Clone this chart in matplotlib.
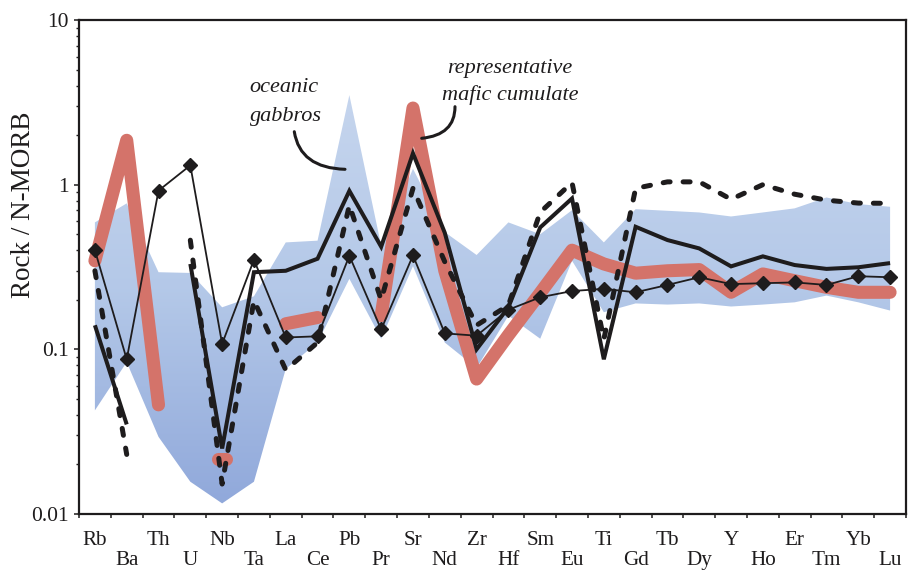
import numpy as np
import matplotlib
matplotlib.use("Agg")
import matplotlib.pyplot as plt
import matplotlib.transforms as mtransforms
from matplotlib.path import Path
from matplotlib.patches import PathPatch
from matplotlib.colors import LinearSegmentedColormap
from matplotlib.ticker import LogLocator, NullFormatter, FixedLocator

nan = np.nan

elements = ["Rb", "Ba", "Th", "U", "Nb", "Ta", "La", "Ce", "Pb", "Pr", "Sr", "Nd", "Zr",
            "Hf", "Sm", "Eu", "Ti", "Gd", "Tb", "Dy", "Y", "Ho", "Er", "Tm", "Yb", "Lu"]

# oceanic gabbros field (upper / lower envelope)
gabbro_hi = [0.59, 0.77, 0.294, 0.291, 0.18, 0.21, 0.446, 0.457, 3.5, 0.426, 1.25, 0.515, 0.374,
             0.59, 0.50, 0.70, 0.446, 0.71, 0.694, 0.678, 0.641, 0.678, 0.718, 0.836, 0.762, 0.734]
gabbro_lo = [0.0426, 0.0836, 0.0294, 0.0157, 0.0116, 0.0157, 0.076, 0.11, 0.268, 0.116, 0.32, 0.11, 0.077,
             0.16, 0.116, 0.345, 0.168, 0.19, 0.187, 0.19, 0.182, 0.187, 0.193, 0.212, 0.193, 0.172]

# representative mafic cumulate (red)
cumulate = [0.345, 1.86, 0.046, nan, 0.0217, nan, 0.143, 0.156, nan, 0.16, 2.92, 0.30, 0.066,
            0.122, 0.22, 0.40, 0.33, 0.29, 0.30, 0.305, 0.222, 0.287, 0.261, 0.238, 0.222, 0.222]

# samples
sample_dashed = [0.30, 0.023, nan, 0.46, 0.0152, 0.198, 0.075, 0.11, 0.75, 0.20, 0.95, 0.34, 0.14,
                 0.185, 0.68, 1.03, 0.115, 0.95, 1.04, 1.04, 0.815, 1.0, 0.875, 0.805, 0.773, 0.77]
sample_solid = [0.14, 0.035, nan, 0.33, 0.025, 0.294, 0.30, 0.355, 0.917, 0.42, 1.55, 0.51, 0.10,
                0.18, 0.55, 0.825, 0.087, 0.555, 0.461, 0.41, 0.319, 0.367, 0.325, 0.308, 0.315, 0.334]
sample_diamond = [0.40, 0.087, 0.92, 1.31, 0.108, 0.35, 0.118, 0.12, 0.37, 0.132, 0.372, 0.125, 0.121,
                  0.174, 0.207, 0.226, 0.233, 0.222, 0.246, 0.274, 0.249, 0.252, 0.255, 0.246, 0.278, 0.274]

yticks = [0.01, 0.1, 1, 10]
ytick_labels = ["0.01", "0.1", "1", "10"]

SERIF = ["Liberation Serif", "DejaVu Serif"]
K = "#1e1c1d"
RED = "#d4736a"

W, H = 908, 571
fig = plt.figure(figsize=(W / 100, H / 100), dpi=100)
ax = fig.add_axes([79 / W, (H - 514) / H, 827 / W, 494 / H])
ax.set_yscale("log")

x = np.arange(len(elements)) + 0.5

# gradient-filled field
poly = ax.fill_between(x, gabbro_lo, gabbro_hi, facecolor="none", edgecolor="none", lw=0, zorder=1)
cmap = LinearSegmentedColormap.from_list(
    "band", [(0.0, (0.56, 0.655, 0.855)), (0.45, (0.705, 0.785, 0.91)), (1.0, (0.80, 0.855, 0.94))])
grad = np.linspace(0, 1, 256).reshape(-1, 1)
im = ax.imshow(grad, extent=(0, 1, 0, 1), transform=ax.transAxes, origin="lower",
               cmap=cmap, aspect="auto", zorder=1, interpolation="bilinear")
im.set_clip_path(poly.get_paths()[0], ax.transData)

# red cumulate
cum = np.array(cumulate, dtype=float)
ax.plot(x, cum, color=RED, lw=9.4, solid_capstyle="round", solid_joinstyle="round", zorder=2)
for i, v in enumerate(cum):
    if np.isfinite(v):
        left = i == 0 or not np.isfinite(cum[i - 1])
        right = i == len(cum) - 1 or not np.isfinite(cum[i + 1])
        if left and right:
            ax.plot([x[i] - 0.12, x[i] + 0.12], [v, v], color=RED, lw=9.4,
                    solid_capstyle="round", zorder=2)

ax.plot(x, sample_dashed, color=K, lw=3.6, dashes=(1.4, 2.6), dash_capstyle="round",
        dash_joinstyle="round", zorder=3)
ax.plot(x, sample_solid, color=K, lw=2.9, solid_joinstyle="miter", solid_capstyle="butt", zorder=4)
ax.plot(x, sample_diamond, color=K, lw=1.3, marker="D", ms=7, mfc=K, mec=K, zorder=5)

ax.set_xlim(0, len(elements))
ax.set_ylim(0.01, 10)

ax.xaxis.set_major_locator(FixedLocator(np.arange(len(elements) + 1)))
ax.set_xticklabels([])
ax.tick_params(axis="x", which="major", direction="out", length=3.2, width=1.1, color=K)
ax.set_yticks(yticks)
ax.set_yticklabels(ytick_labels, fontfamily=SERIF, fontsize=15.5, color=K)
ax.yaxis.set_minor_locator(LogLocator(base=10, subs=np.arange(2, 10)))
ax.yaxis.set_minor_formatter(NullFormatter())
ax.tick_params(axis="y", which="major", direction="out", length=3.6, width=1.1, pad=4, color=K)
ax.tick_params(axis="y", which="minor", direction="out", length=2.2, width=1.0, color=K)
for s in ax.spines.values():
    s.set_linewidth(1.6)
    s.set_color(K)

trans = mtransforms.blended_transform_factory(ax.transData, ax.transAxes)
for i, el in enumerate(elements):
    fy = -0.0628 if i % 2 == 0 else -0.1040
    ax.text(x[i], fy, el, transform=trans, ha="center", va="baseline",
            fontfamily=SERIF, fontsize=15.2, color=K)

fig.text(24 / W, (H - 205) / H, "Rock / N-MORB", rotation=90, ha="center", va="center",
         fontfamily=SERIF, fontsize=19.5, color=K)

def ftext(px, py, s):
    fig.text(px / W, (H - py) / H, s, ha="center", va="center", fontfamily=SERIF,
             fontstyle="italic", fontsize=16, color=K)

ftext(284, 87.5, "oceanic")
ftext(285.5, 116.7, "gabbros")
ftext(510, 68.5, "representative")
ftext(510, 95, "mafic cumulate")

def leader(p0, c, p1):
    pts = [(p[0] / W, (H - p[1]) / H) for p in (p0, c, p1)]
    path = Path(pts, [Path.MOVETO, Path.CURVE3, Path.CURVE3])
    fig.add_artist(PathPatch(path, transform=fig.transFigure, fill=False, lw=2.2,
                             edgecolor=K, capstyle="round"))

leader((294.3, 131.7), (300, 168), (345, 169.3))
leader((421.7, 138.3), (455, 135), (455, 106.7))

fig.savefig("out.png", dpi=100)
